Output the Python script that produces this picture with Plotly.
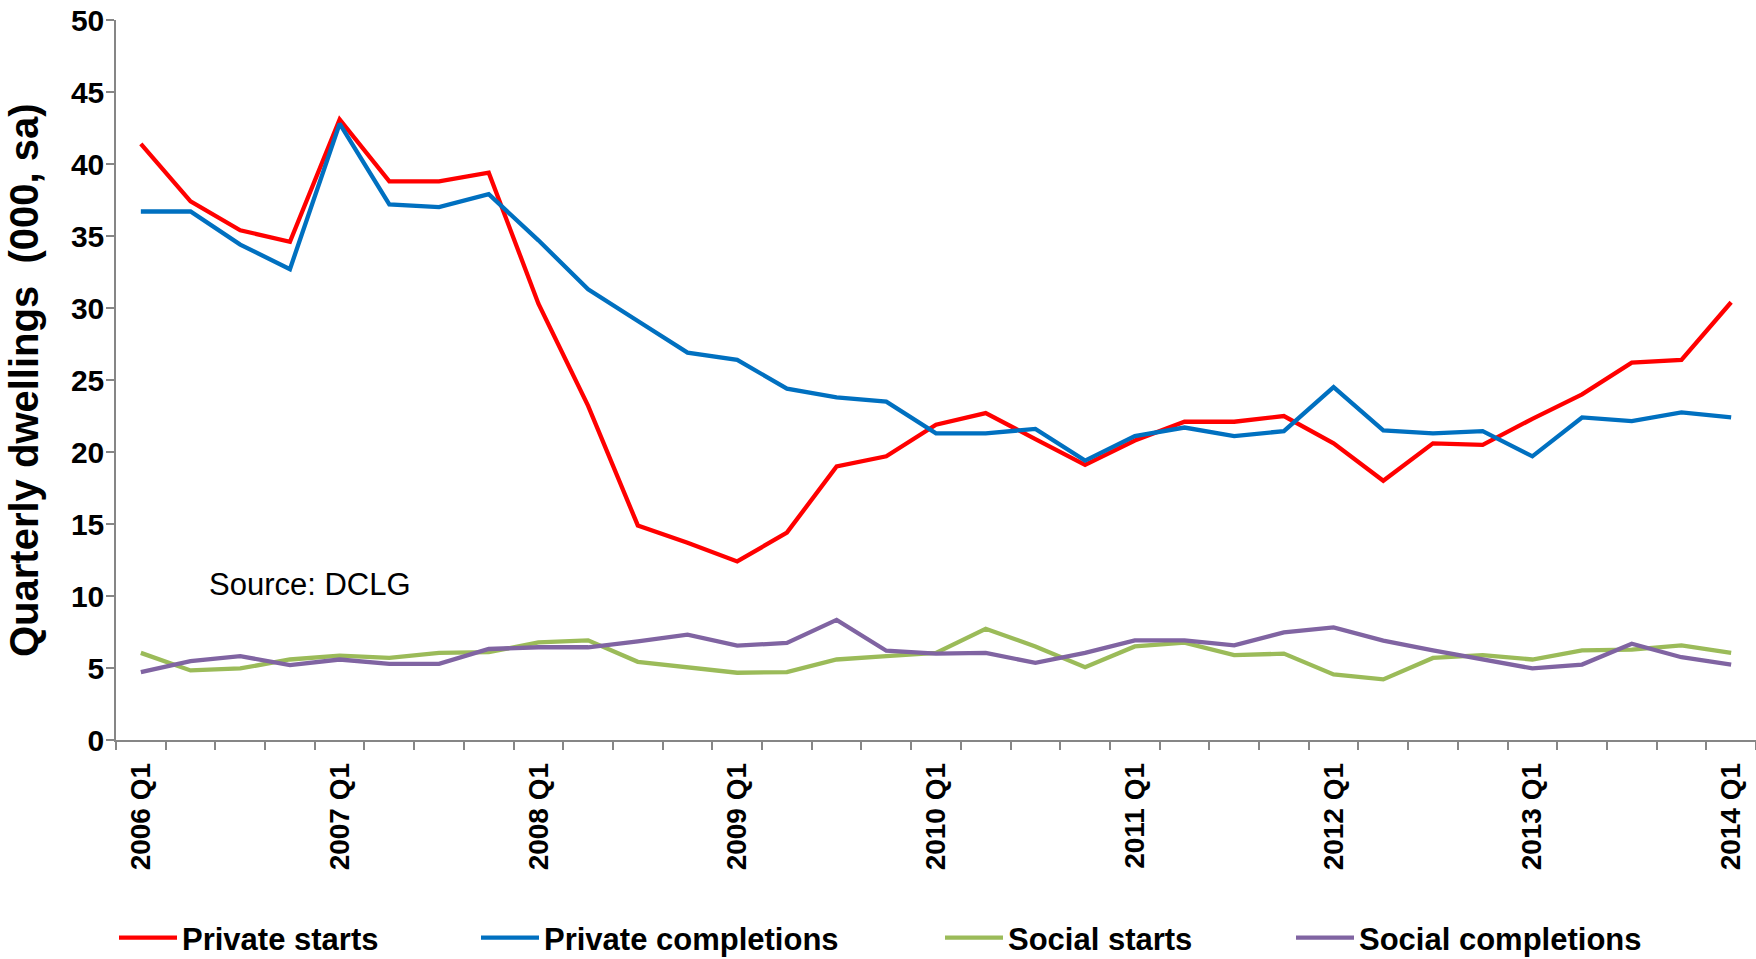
import plotly.graph_objects as go

# Quarters 2006 Q1 .. 2014 Q1
quarters = [f"{y} Q{q}" for y in range(2006, 2015) for q in range(1, 5)][:33]

# Quarterly dwellings (000, seasonally adjusted)
private_starts = [41.4, 37.4, 35.4, 34.6, 43.1, 38.8, 38.8, 39.4, 30.3, 23.2,
                  14.9, 13.7, 12.4, 14.4, 19.0, 19.7, 21.9, 22.7, 20.9, 19.1,
                  20.8, 22.1, 22.1, 22.5, 20.6, 18.0, 20.6, 20.5, 22.3, 24.0,
                  26.2, 26.4, 30.4]
private_completions = [36.7, 36.7, 34.4, 32.7, 42.8, 37.2, 37.0, 37.9, 34.7, 31.3,
                       29.1, 26.9, 26.4, 24.4, 23.8, 23.5, 21.3, 21.3, 21.6, 19.4,
                       21.1, 21.7, 21.1, 21.45, 24.5, 21.5, 21.3, 21.45, 19.7, 22.4,
                       22.15, 22.75, 22.4]
social_starts = [6.05, 4.83, 4.97, 5.59, 5.86, 5.7, 6.05, 6.1, 6.78, 6.92,
                 5.43, 5.06, 4.67, 4.71, 5.59, 5.82, 6.05, 7.72, 6.5, 5.06,
                 6.5, 6.76, 5.89, 6.0, 4.55, 4.21, 5.7, 5.89, 5.59, 6.23,
                 6.28, 6.57, 6.05]
social_completions = [4.71, 5.47, 5.82, 5.2, 5.59, 5.29, 5.29, 6.32, 6.44, 6.44,
                      6.85, 7.31, 6.55, 6.74, 8.34, 6.2, 6.0, 6.05, 5.36, 6.05,
                      6.92, 6.92, 6.57, 7.47, 7.82, 6.9, 6.23, 5.59, 4.97, 5.24,
                      6.69, 5.75, 5.24]

series = [
    ("Private starts", private_starts, "#FF0000"),
    ("Private completions", private_completions, "#0070C0"),
    ("Social starts", social_starts, "#9BBB59"),
    ("Social completions", social_completions, "#8064A2"),
]

FONT = "Liberation Sans, Arial, sans-serif"
W, H = 1756, 959
ML, MR, MT, MB = 116, 0, 20, 219

idx = list(range(len(quarters)))
label_idx = [i for i, q in enumerate(quarters) if q.endswith("Q1")]

fig = go.Figure()
legend_names = ["legend", "legend2", "legend3", "legend4"]
for (name, vals, color), lg in zip(series, legend_names):
    fig.add_trace(go.Scatter(
        x=idx, y=vals, name=name, mode="lines",
        line=dict(color=color, width=4.3),
        legend=lg, hoverinfo="skip",
    ))

# one legend per series, laid out along the bottom
legend_x_px = [114, 476, 940, 1291]
legend_common = dict(
    orientation="h", xref="container", yref="container",
    xanchor="left", yanchor="middle", y=1 - 938 / H,
    font=dict(family=FONT, size=31, color="black", weight="bold"),
    bgcolor="rgba(0,0,0,0)", itemwidth=58, tracegroupgap=0,
)
layout_legends = {}
for lg, px in zip(legend_names, legend_x_px):
    layout_legends[lg] = dict(legend_common, x=px / W)

axis_gray = "#868686"
fig.update_layout(
    width=W, height=H,
    margin=dict(l=ML, r=MR, t=MT, b=MB),
    paper_bgcolor="white", plot_bgcolor="white",
    showlegend=True,
    **layout_legends,
    xaxis=dict(
        range=[-0.5, len(quarters) - 0.5],
        tickmode="array", tickvals=label_idx,
        ticktext=[quarters[i] for i in label_idx],
        tickangle=-90, ticks="outside", ticklen=0,
        ticklabelstandoff=10,
        tickfont=dict(family=FONT, size=28, color="black", weight="bold"),
        showgrid=False, zeroline=False,
        showline=True, linecolor=axis_gray, linewidth=1.5,
        minor=dict(tick0=-0.5, dtick=1, ticks="outside", ticklen=8,
                   tickcolor=axis_gray, tickwidth=1.5, showgrid=False),
    ),
    yaxis=dict(
        range=[0, 50], tickmode="linear", tick0=0, dtick=5,
        ticks="outside", ticklen=8, tickcolor=axis_gray, tickwidth=1.5,
        ticklabelstandoff=-4,
        tickfont=dict(family=FONT, size=30, color="black", weight="bold"),
        showgrid=False, zeroline=False,
        showline=True, linecolor=axis_gray, linewidth=1.5,
    ),
    annotations=[
        dict(text="Quarterly dwellings  (000, sa)", textangle=-90,
             xref="paper", yref="paper", x=-(ML - 24) / (W - ML - MR), y=0.5,
             xanchor="center", yanchor="middle", showarrow=False,
             font=dict(family=FONT, size=40, color="black", weight="bold")),
        dict(text="Source: DCLG", xref="x", yref="y", x=1.33, y=10.8,
             xanchor="left", yanchor="middle", showarrow=False,
             font=dict(family=FONT, size=31, color="black")),
    ],
)

fig.write_html("out.html")
